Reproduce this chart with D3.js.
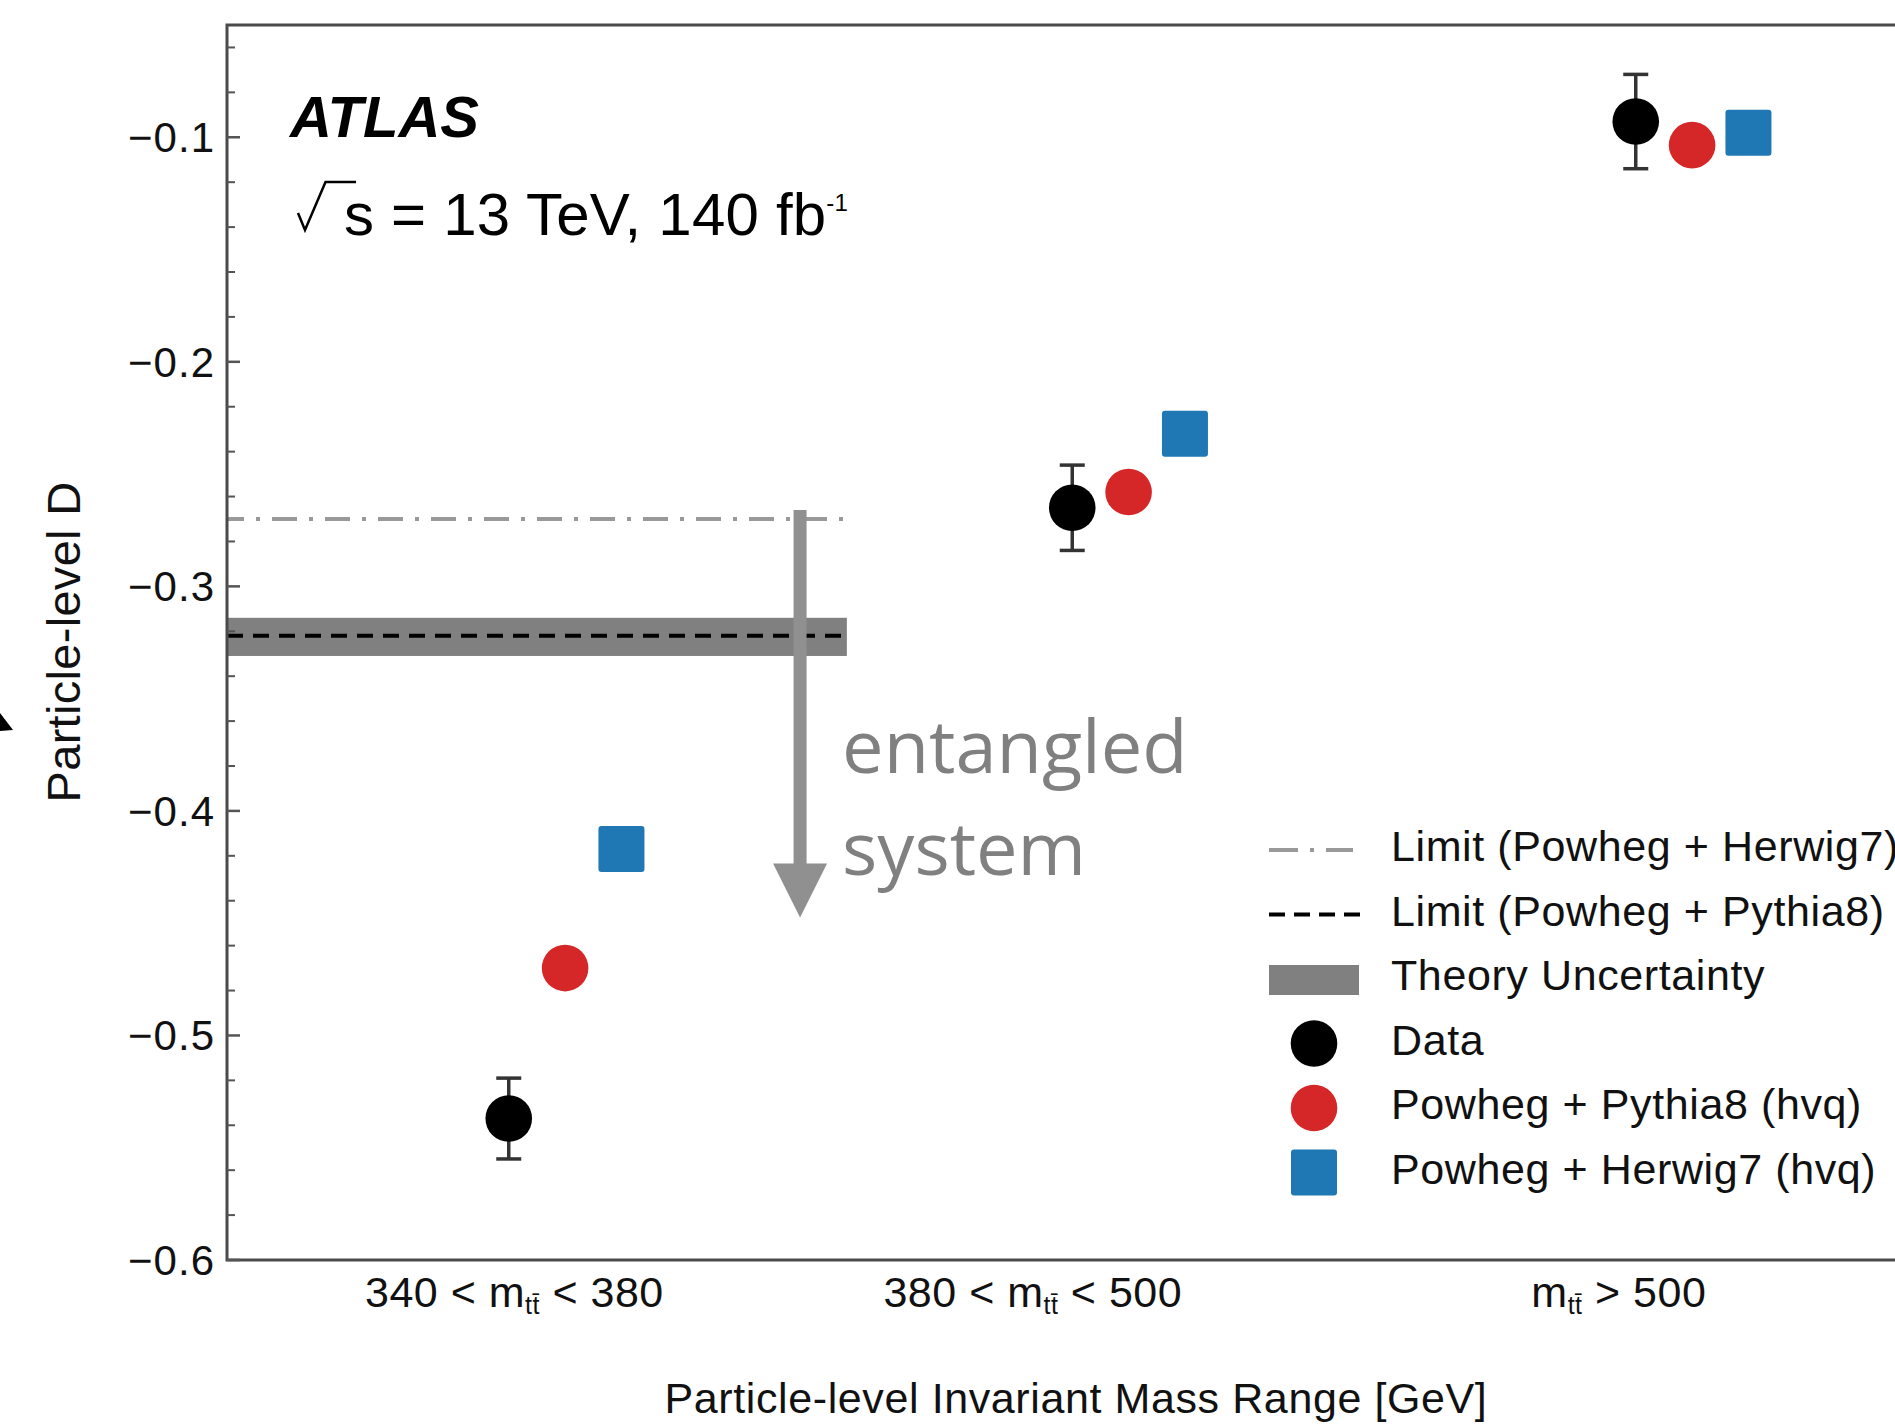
<!DOCTYPE html>
<html>
<head>
<meta charset="utf-8">
<script src="https://cdn.jsdelivr.net/npm/d3@7"></script>
<style>
  html, body { margin: 0; padding: 0; background: #fff; }
  svg { display: block; }
</style>
</head>
<body>
<div id="chart"></div>
<script>
// ---------------- data ----------------
const categories = [
  ["340 < m", "tt\u0304", " < 380"],
  ["380 < m", "tt\u0304", " < 500"],
  ["m", "tt\u0304", " > 500"]
];
const dataValues    = [-0.537, -0.265, -0.093];
const dataErrors    = [0.018, 0.019, 0.021];
const pythiaValues  = [-0.470, -0.258, -0.1035];
const herwigValues  = [-0.417, -0.232, -0.098];
const limitHerwig   = -0.270;
const limitPythia   = -0.322;
const theoryBand    = [-0.331, -0.314];
const yTicks        = [-0.6, -0.5, -0.4, -0.3, -0.2, -0.1];
const yTickLabels   = ["\u22120.6", "\u22120.5", "\u22120.4", "\u22120.3", "\u22120.2", "\u22120.1"];
const legendLabels  = [
  "Limit (Powheg + Herwig7)",
  "Limit (Powheg + Pythia8)",
  "Theory Uncertainty",
  "Data",
  "Powheg + Pythia8 (hvq)",
  "Powheg + Herwig7 (hvq)"
];
const annotationLines = ["entangled", "system"];

// ---------------- layout ----------------
const W = 1895, H = 1427;
const plotLeft = 227, plotTop = 25, plotBottom = 1260, plotRight = 1917.5;
const font = "'Liberation Sans', Arial, Helvetica, sans-serif";
const RED = "#d62728", BLUE = "#1f77b4";

const svg = d3.select("#chart").append("svg")
  .attr("width", W).attr("height", H)
  .attr("viewBox", `0 0 ${W} ${H}`);
svg.append("rect").attr("width", W).attr("height", H).attr("fill", "#fff");

const x = d3.scaleLinear().domain([-0.6, 2.4]).range([plotLeft, plotRight]);
const y = d3.scaleLinear().domain([-0.6, -0.05]).range([plotBottom, plotTop]);

const offData = -0.1, offPythia = 0, offHerwig = 0.1;
const labelShift = [-0.09, -0.17, -0.13];
const limitExtent = [-0.6, 0.5];

// theory band
svg.append("rect")
  .attr("x", x(limitExtent[0])).attr("width", x(limitExtent[1]) - x(limitExtent[0]))
  .attr("y", y(theoryBand[1])).attr("height", y(theoryBand[0]) - y(theoryBand[1]))
  .attr("fill", "#808080");

// limit lines
svg.append("line")
  .attr("x1", x(limitExtent[0])).attr("x2", x(limitExtent[1]))
  .attr("y1", y(limitPythia)).attr("y2", y(limitPythia))
  .attr("stroke", "#000").attr("stroke-width", 4).attr("stroke-dasharray", "16 10");
svg.append("line")
  .attr("x1", x(limitExtent[0])).attr("x2", x(limitExtent[1]))
  .attr("y1", y(limitHerwig)).attr("y2", y(limitHerwig))
  .attr("stroke", "#999").attr("stroke-width", 4)
  .attr("stroke-dasharray", "25 12 4 12").attr("stroke-dashoffset", 8);

// arrow annotation
const arrowX = x(0.417);
const arrowTop = y(-0.266), arrowTip = y(-0.4475), headLen = 54, headHalf = 27;
svg.append("line")
  .attr("x1", arrowX).attr("x2", arrowX)
  .attr("y1", arrowTop).attr("y2", arrowTip - headLen + 2)
  .attr("stroke", "#909090").attr("stroke-width", 13);
svg.append("path")
  .attr("d", `M${arrowX - headHalf},${arrowTip - headLen} L${arrowX + headHalf},${arrowTip - headLen} L${arrowX},${arrowTip} Z`)
  .attr("fill", "#909090");
svg.selectAll("text.annot").data(annotationLines).enter().append("text")
  .attr("class", "annot")
  .attr("x", arrowX + 42)
  .attr("y", (d, i) => 773 + i * 102)
  .attr("font-family", "'Open Sans', 'Noto Sans', sans-serif")
  .attr("font-size", 74)
  .attr("fill", "#808080")
  .text(d => d);

// frame
svg.append("rect")
  .attr("x", plotLeft).attr("y", plotTop)
  .attr("width", plotRight - plotLeft).attr("height", plotBottom - plotTop)
  .attr("fill", "none").attr("stroke", "#4a4a4a").attr("stroke-width", 3);

// y ticks (inward)
const minor = d3.range(-0.58, -0.05, 0.02).filter(v => Math.abs(Math.round(v * 10) - v * 10) > 0.01);
svg.append("g").selectAll("line").data(minor).enter().append("line")
  .attr("x1", plotLeft).attr("x2", plotLeft + 8)
  .attr("y1", d => y(d)).attr("y2", d => y(d))
  .attr("stroke", "#555").attr("stroke-width", 2);
svg.append("g").selectAll("line").data(yTicks).enter().append("line")
  .attr("x1", plotLeft).attr("x2", plotLeft + 13)
  .attr("y1", d => y(d)).attr("y2", d => y(d))
  .attr("stroke", "#555").attr("stroke-width", 2.5);
svg.append("g").selectAll("text").data(yTicks).enter().append("text")
  .attr("x", plotLeft - 12).attr("y", d => y(d) + 15)
  .attr("text-anchor", "end")
  .attr("font-family", font).attr("font-size", 42).attr("letter-spacing", 1).attr("fill", "#111")
  .text((d, i) => yTickLabels[i]);

// x category labels
const xl = svg.append("g").selectAll("text").data(categories).enter().append("text")
  .attr("x", (d, i) => x(i + labelShift[i])).attr("y", 1307)
  .attr("text-anchor", "middle")
  .attr("font-family", font).attr("font-size", 43).attr("letter-spacing", 0.5).attr("fill", "#111");
xl.append("tspan").text(d => d[0]);
xl.append("tspan").attr("font-size", 25).attr("dy", 7).text(d => d[1]);
xl.append("tspan").attr("dy", -7).text(d => d[2]);

// axis titles
svg.append("text")
  .attr("x", 1076).attr("y", 1413).attr("text-anchor", "middle")
  .attr("font-family", font).attr("font-size", 43).attr("letter-spacing", 0.6).attr("fill", "#111")
  .text("Particle-level Invariant Mass Range [GeV]");
svg.append("text")
  .attr("transform", "translate(80,642) rotate(-90)")
  .attr("text-anchor", "middle")
  .attr("font-family", font).attr("font-size", 47).attr("letter-spacing", 0.3).attr("fill", "#111")
  .text("Particle-level D");

// ATLAS label
svg.append("text")
  .attr("x", 290).attr("y", 137)
  .attr("font-family", font).attr("font-size", 58)
  .attr("font-weight", "bold").attr("font-style", "italic").attr("fill", "#000")
  .text("ATLAS");
const sx = 344, sy = 235;
svg.append("path")
  .attr("d", `M${sx - 46},${sy - 22} L${sx - 39},${sy - 5} L${sx - 18.5},${sy - 53} L${sx + 12},${sy - 53}`)
  .attr("fill", "none").attr("stroke", "#000").attr("stroke-width", 2.5);
const lumi = svg.append("text")
  .attr("x", sx).attr("y", sy)
  .attr("font-family", font).attr("font-size", 60).attr("letter-spacing", 0.2).attr("fill", "#000");
lumi.append("tspan").text("s = 13 TeV, 140 fb");
lumi.append("tspan").attr("font-size", 24).attr("dy", -24).text("-1");

// error bars
const eb = svg.append("g").attr("stroke", "#333").attr("stroke-width", 3.5);
dataValues.forEach((v, i) => {
  const cx = x(i + offData);
  eb.append("line").attr("x1", cx).attr("x2", cx)
    .attr("y1", y(v - dataErrors[i])).attr("y2", y(v + dataErrors[i]));
  [v - dataErrors[i], v + dataErrors[i]].forEach(e => {
    eb.append("line").attr("x1", cx - 12.5).attr("x2", cx + 12.5)
      .attr("y1", y(e)).attr("y2", y(e));
  });
});

// markers
const R = 23.3, S = 46;
svg.append("g").selectAll("circle").data(pythiaValues).enter().append("circle")
  .attr("cx", (d, i) => x(i + offPythia)).attr("cy", d => y(d)).attr("r", R)
  .attr("fill", RED);
svg.append("g").selectAll("rect").data(herwigValues).enter().append("rect")
  .attr("x", (d, i) => x(i + offHerwig) - S / 2).attr("y", d => y(d) - S / 2)
  .attr("width", S).attr("height", S).attr("rx", 3).attr("fill", BLUE);
svg.append("g").selectAll("circle").data(dataValues).enter().append("circle")
  .attr("cx", (d, i) => x(i + offData)).attr("cy", d => y(d)).attr("r", R)
  .attr("fill", "#000");

// legend
const lgX = 1269, lgTextX = 1391, lgY0 = 850, lgStep = 64.5;
const lg = svg.append("g");
lg.selectAll("text").data(legendLabels).enter().append("text")
  .attr("x", lgTextX).attr("y", (d, i) => lgY0 + i * lgStep + 11)
  .attr("font-family", font).attr("font-size", 43).attr("letter-spacing", 0.6).attr("fill", "#111")
  .text(d => d);
lg.append("line").attr("x1", lgX).attr("x2", lgX + 84)
  .attr("y1", lgY0).attr("y2", lgY0)
  .attr("stroke", "#999").attr("stroke-width", 4).attr("stroke-dasharray", "29 12 4 12");
lg.append("line").attr("x1", lgX).attr("x2", lgX + 91)
  .attr("y1", lgY0 + lgStep).attr("y2", lgY0 + lgStep)
  .attr("stroke", "#000").attr("stroke-width", 4).attr("stroke-dasharray", "16 9");
lg.append("rect").attr("x", lgX).attr("width", 90)
  .attr("y", lgY0 + 2 * lgStep - 15 + 1).attr("height", 30).attr("fill", "#808080");
lg.append("circle").attr("cx", lgX + 45).attr("cy", lgY0 + 3 * lgStep).attr("r", R).attr("fill", "#000");
lg.append("circle").attr("cx", lgX + 45).attr("cy", lgY0 + 4 * lgStep).attr("r", R).attr("fill", RED);
lg.append("rect").attr("x", lgX + 45 - S / 2).attr("y", lgY0 + 5 * lgStep - S / 2)
  .attr("width", S).attr("height", S).attr("rx", 3).attr("fill", BLUE);

// cropped marker fragment at the left edge
svg.append("path").attr("d", "M0,713 L13,730 L0,731 Z").attr("fill", "#000");
</script>
</body>
</html>
